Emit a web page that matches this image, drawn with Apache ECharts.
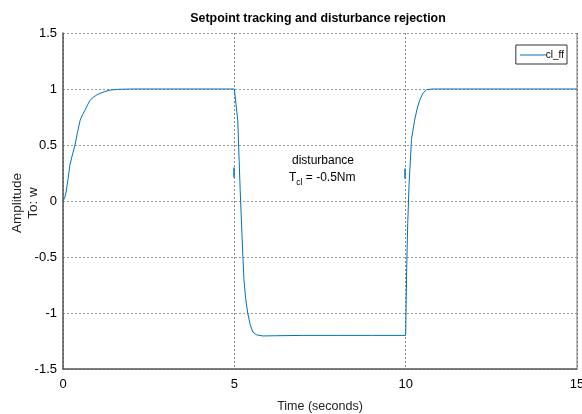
<!DOCTYPE html>
<html>
<head>
<meta charset="utf-8">
<script src="https://cdn.jsdelivr.net/npm/echarts@6/dist/echarts.min.js"></script>
<style>
html,body{margin:0;padding:0;background:#fff;}
#c{width:582px;height:414px;}
</style>
</head>
<body>
<div id="c"></div>
<script>
// Response cl_ff: time (s) and amplitude
var timeS = [0, 0.05, 0.09, 0.15, 0.2, 0.28, 0.35, 0.42, 0.5, 0.57, 0.64, 0.72, 0.79, 0.9, 1.0, 1.08, 1.2, 1.37, 1.6, 2.0, 3.0, 4.0, 5.0, 5.05,
             5.1, 5.17, 5.25, 5.28, 5.33, 5.39, 5.46, 5.54, 5.65, 5.83, 6.2, 7.0, 8.0, 9.0, 10.0,
             10.01, 10.03, 10.06, 10.1, 10.17, 10.26, 10.34, 10.41, 10.5, 10.61, 10.8, 11.5, 13.0, 15.0];
var ampl  = [0, 0.03, 0.08, 0.2, 0.32, 0.42, 0.5, 0.61, 0.72, 0.77, 0.81, 0.86, 0.9, 0.93, 0.95, 0.96, 0.975, 0.99, 0.997, 1.0, 1.0, 1.0, 1.0, 1.0,
             0.72, 0.1, -0.5, -0.7, -0.87, -1.0, -1.1, -1.17, -1.195, -1.205, -1.203, -1.2, -1.2, -1.2, -1.2,
             -1.0, -0.6, -0.2, 0.15, 0.55, 0.72, 0.83, 0.9, 0.96, 0.995, 1.0, 1.0, 1.0, 1.0];
// small blue marks near the disturbance arrows
var markA = [[4.99, 0.21], [4.99, 0.30]];
var markB = [[9.98, 0.20], [9.98, 0.29]];
var xTicks = [0, 5, 10, 15];
var yTicks = [-1.5, -1, -0.5, 0, 0.5, 1, 1.5];

var seriesData = timeS.map(function (t, i) { return [t, ampl[i]]; });
var SANS = '"Liberation Sans", Arial, sans-serif';
var lineColor = '#0072BD';

var chart = echarts.init(document.getElementById('c'), null, {renderer: 'canvas'});
chart.setOption({
  animation: false,
  backgroundColor: '#fff',
  title: {
    text: 'Setpoint tracking and disturbance rejection',
    left: 313, top: 8, textAlign: 'center',
    textStyle: {fontFamily: SANS, fontSize: 12.4, fontWeight: 'bold', color: '#000'}
  },
  legend: {
    data: ['cl_ff'],
    right: 15, top: 45,
    orient: 'vertical',
    backgroundColor: '#fff',
    borderColor: '#333', borderWidth: 1, borderRadius: 0,
    padding: [5, 3, 4, 4],
    itemWidth: 26, itemHeight: 1, itemGap: 0,
    icon: 'rect',
    itemStyle: {color: lineColor, borderWidth: 0},
    textStyle: {fontFamily: SANS, fontSize: 10, color: '#000', padding: [0, 0, 0, -5]}
  },
  grid: {left: 63, right: 5, top: 33, bottom: 45, containLabel: false, outerBoundsMode: 'none'},
  xAxis: {
    type: 'value', min: 0, max: 15, interval: 5,
    name: 'Time (seconds)', nameLocation: 'middle', nameGap: 31,
    nameTextStyle: {fontFamily: SANS, fontSize: 12.5, color: '#222'},
    axisLine: {show: true, onZero: false, lineStyle: {color: '#555', width: 1.5}},
    axisTick: {show: false},
    axisLabel: {fontFamily: SANS, fontSize: 13, color: '#000', margin: 9},
    splitLine: {show: true, lineStyle: {color: '#888', type: [2, 2], width: 1}}
  },
  yAxis: {
    type: 'value', min: -1.5, max: 1.5, interval: 0.5,
    axisLine: {show: true, onZero: false, lineStyle: {color: '#555', width: 1.5}},
    axisTick: {show: false},
    axisLabel: {fontFamily: SANS, fontSize: 13, color: '#000', margin: 6,
      formatter: function (v) { return String(v); }},
    splitLine: {show: true, lineStyle: {color: '#999', type: [2, 2], width: 1}}
  },
  graphic: [
    {type: 'line', shape: {x1: 577, y1: 33, x2: 577, y2: 369}, style: {stroke: '#777', lineWidth: 1}, z: 5},
    {type: 'text', x: 25, y: 203, rotation: Math.PI / 2, style: {
      text: 'Amplitude\nTo: w', fontFamily: SANS, fontSize: 13.5, lineHeight: 16,
      fill: '#222', align: 'center', verticalAlign: 'middle'}},
    {type: 'text', left: 292, top: 155, style: {
      text: 'disturbance', fontFamily: SANS, fontSize: 12, fill: '#000'}},
    {type: 'text', left: 289, top: 172, style: {
      text: '{t|T}{s|cl}{t| = -0.5Nm}',
      rich: {
        t: {fontFamily: SANS, fontSize: 12, fill: '#000', color: '#000'},
        s: {fontFamily: SANS, fontSize: 8.5, fill: '#000', color: '#000', padding: [10, 0, 0, 0]}
      }}}
  ],
  series: [
    {
      name: 'cl_ff', type: 'line', data: seriesData,
      showSymbol: false, symbol: 'none', smooth: false,
      lineStyle: {color: lineColor, width: 1},
      itemStyle: {color: lineColor},
      z: 3
    },
    {
      name: 'markA', type: 'line', data: markA, showSymbol: false, symbol: 'none',
      lineStyle: {color: lineColor, width: 1.5}, silent: true, z: 3
    },
    {
      name: 'markB', type: 'line', data: markB, showSymbol: false, symbol: 'none',
      lineStyle: {color: lineColor, width: 1.5}, silent: true, z: 3
    }
  ]
});
</script>
</body>
</html>
